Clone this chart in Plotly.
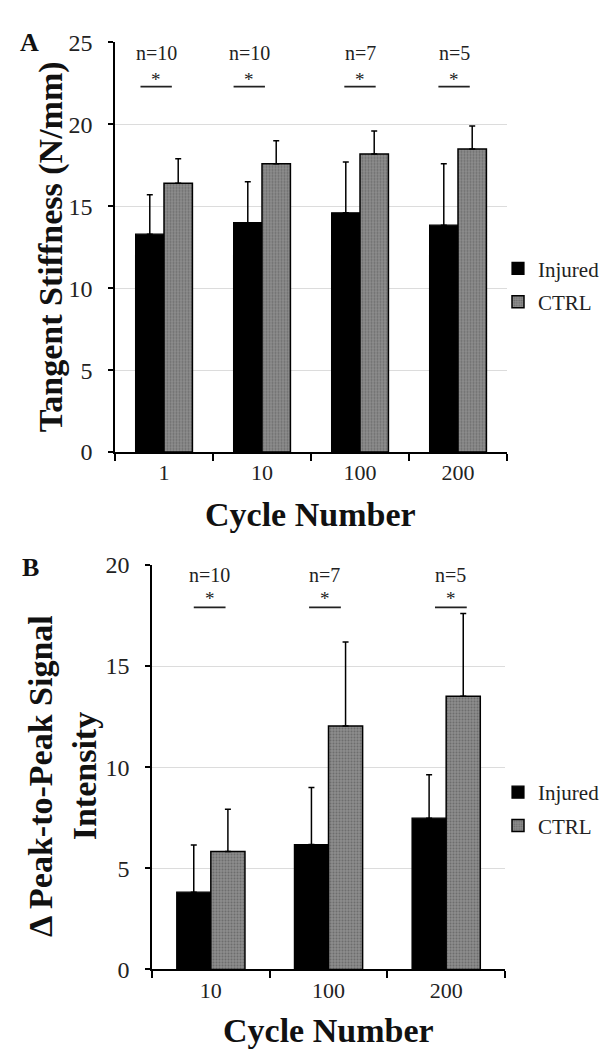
import plotly.graph_objects as go

# ---------------- data ----------------
cats_a = ["1", "10", "100", "200"]
inj_a = [13.3, 14.0, 14.6, 13.85]
inj_a_err = [2.4, 2.5, 3.1, 3.75]
ctrl_a = [16.4, 17.6, 18.2, 18.5]
ctrl_a_err = [1.5, 1.4, 1.4, 1.4]
n_a = ["n=10", "n=10", "n=7", "n=5"]

cats_b = ["10", "100", "200"]
inj_b = [3.82, 6.18, 7.48]
inj_b_err = [2.33, 2.82, 2.15]
ctrl_b = [5.83, 12.04, 13.51]
ctrl_b_err = [2.09, 4.15, 4.09]
n_b = ["n=10", "n=7", "n=5"]

# ---------------- styling ----------------
W, H = 608, 1053
FONT = "Liberation Serif, Times New Roman, serif"
INJ_COLOR = "black"
CTRL_BG = "#8e8e8e"
CTRL_FG = "#4a4a4a"

def px_x(p):
    return p / W

def px_y(p):
    return 1 - p / H

fig = go.Figure()

def add_bars(cats, inj, inj_err, ctrl, ctrl_err, xa, ya, legend):
    fig.add_trace(go.Bar(
        x=cats, y=inj, name="Injured", xaxis=xa, yaxis=ya, legend=legend,
        legendgroup=legend + "inj",
        marker=dict(color=INJ_COLOR, line=dict(color="black", width=1.2)),
        error_y=dict(type="data", array=inj_err, arrayminus=[0] * len(inj_err),
                     symmetric=False, color="black", thickness=1.5, width=3),
    ))
    fig.add_trace(go.Bar(
        x=cats, y=ctrl, name="CTRL", xaxis=xa, yaxis=ya, legend=legend,
        legendgroup=legend + "ctrl",
        marker=dict(color=CTRL_BG, line=dict(color="black", width=1.5),
                    pattern=dict(shape=".", size=3, solidity=0.4,
                                 fgcolor=CTRL_FG, bgcolor=CTRL_BG)),
        error_y=dict(type="data", array=ctrl_err, arrayminus=[0] * len(ctrl_err),
                     symmetric=False, color="black", thickness=1.5, width=3),
    ))

add_bars(cats_a, inj_a, inj_a_err, ctrl_a, ctrl_a_err, "x", "y", "legend")
add_bars(cats_b, inj_b, inj_b_err, ctrl_b, ctrl_b_err, "x2", "y2", "legend2")

axis_common = dict(showline=True, linecolor="black", linewidth=1.5,
                   ticks="outside", tickcolor="black", tickwidth=1.5)

xa = dict(axis_common, type="category", tickson="boundaries", ticklen=7,
          showgrid=False, ticklabelstandoff=0,
          tickfont=dict(family=FONT, size=22, color="#222"))
ya = dict(axis_common, dtick=5, ticklen=5, showgrid=True, gridcolor="#dcdcdc",
          gridwidth=1, zeroline=False, ticklabelstandoff=11,
          tickfont=dict(family=FONT, size=24, color="#222"))

legend_common = dict(xanchor="left", yanchor="top",
                     font=dict(family=FONT, size=21, color="#222"),
                     bgcolor="rgba(0,0,0,0)", itemwidth=30, tracegroupgap=3)

fig.update_layout(
    width=W, height=H,
    margin=dict(l=0, r=0, t=0, b=0),
    paper_bgcolor="white", plot_bgcolor="white",
    barmode="group", bargap=0.42, bargroupgap=0,
    font=dict(family=FONT, color="#222"),
    xaxis=dict(xa, domain=[px_x(107), px_x(499)], anchor="y",
               range=[-0.5, len(cats_a) - 0.5]),
    yaxis=dict(ya, domain=[px_y(442), px_y(22)], anchor="x", range=[0, 25]),
    xaxis2=dict(xa, domain=[px_x(144), px_x(497)], anchor="y2",
                range=[-0.5, len(cats_b) - 0.5]),
    yaxis2=dict(ya, domain=[px_y(972.5), px_y(557.7)], anchor="x2", range=[0, 20]),
    legend=dict(legend_common, x=px_x(490), y=px_y(233)),
    legend2=dict(legend_common, x=px_x(490), y=px_y(770)),
)

# significance markers
sig_a_off = [-0.08, -0.13, 0.0, -0.04]
sig_b_off = [-0.01, -0.03, 0.04]

def add_sig(labels, offs, xref, yref, y_n, y_star, y_line, half):
    for i, (lab, off) in enumerate(zip(labels, offs)):
        c = i + off
        fig.add_annotation(x=c, y=y_n, xref=xref, yref=yref, text=lab,
                           xanchor="center", yanchor="middle",
                           showarrow=False, font=dict(family=FONT, size=20, color="#222"))
        fig.add_annotation(x=c, y=y_star, xref=xref, yref=yref, text="*",
                           xanchor="center", yanchor="middle",
                           showarrow=False, font=dict(family=FONT, size=19, color="#222"))
        fig.add_shape(type="line", xref=xref, yref=yref, x0=c - half, x1=c + half,
                      y0=y_line, y1=y_line, line=dict(color="#222", width=1.8))

add_sig(n_a, sig_a_off, "x", "y", 24.35, 22.75, 22.3, 0.16)
add_sig(n_b, sig_b_off, "x2", "y2", 19.5, 18.35, 17.9, 0.135)

# axis titles & panel labels
title_font = dict(family=FONT, size=34, color="#111")

def paper_text(x, y, text, font, angle=0):
    fig.add_annotation(xref="paper", yref="paper", x=px_x(x), y=px_y(y),
                       xanchor="center", yanchor="middle", text=text,
                       textangle=angle, showarrow=False, font=font)

paper_text(302, 506, "<b>Cycle Number</b>", title_font)
paper_text(320, 1035, "<b>Cycle Number</b>", title_font)
paper_text(43, 232, "<b>Tangent Stiffness (N/mm)</b>", title_font, -90)
paper_text(55, 774, "<b>Δ Peak-to-Peak Signal<br>Intensity</b>", title_font, -90)
paper_text(21, 22, "<b>A</b>", dict(family=FONT, size=26, color="#111"))
paper_text(22, 560, "<b>B</b>", dict(family=FONT, size=26, color="#111"))

fig.write_html("out.html")
